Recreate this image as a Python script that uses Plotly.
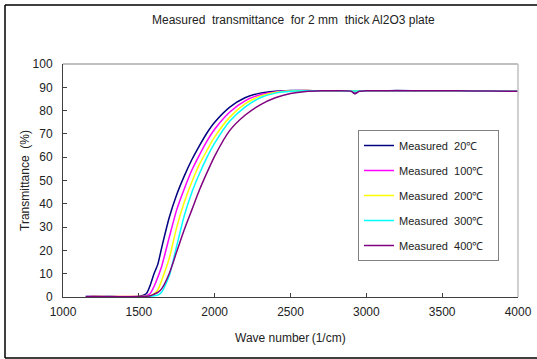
import plotly.graph_objects as go

# wave numbers (1/cm)
wave = [1150, 1200, 1300, 1400, 1500, 1550, 1575, 1600, 1625, 1650, 1700, 1750, 1800,
        1850, 1900, 1950, 2000, 2100, 2200, 2300, 2400, 2500, 2600, 2700, 2800,
        2900, 2925, 2950, 3000, 3100, 3200, 3400, 3600, 3800, 4000]

t20 = [0.2, 0.3, 0.2, 0.1, 0.3, 1.5, 5.0, 10.0, 14.0, 21.0, 34.0, 44.0, 52.0,
       59.0, 65.0, 70.5, 75.0, 81.5, 85.5, 87.5, 88.3, 88.6, 88.6, 88.5, 88.5,
       88.4, 87.3, 88.3, 88.5, 88.5, 88.6, 88.5, 88.5, 88.4, 88.3]
t100 = [0.2, 0.2, 0.3, 0.2, 0.2, 0.6, 1.5, 4.5, 8.5, 13.0, 25.5, 37.5, 46.5,
        54.5, 61.0, 67.0, 72.0, 79.4, 84.2, 86.8, 88.0, 88.5, 88.6, 88.5, 88.5,
        88.4, 88.3, 88.4, 88.5, 88.5, 88.5, 88.5, 88.5, 88.4, 88.3]
t200 = [0.1, 0.2, 0.2, 0.2, 0.2, 0.3, 0.6, 1.3, 3.0, 7.0, 16.5, 30.0, 40.8,
        49.5, 57.0, 63.0, 68.7, 77.2, 82.9, 86.2, 87.8, 88.4, 88.6, 88.5, 88.5,
        88.4, 88.4, 88.4, 88.5, 88.5, 88.5, 88.5, 88.5, 88.4, 88.3]
t300 = [0.2, 0.1, 0.2, 0.1, 0.1, 0.2, 0.3, 0.5, 0.8, 2.0, 9.0, 22.0, 35.0,
        45.0, 53.0, 60.0, 66.0, 75.5, 81.5, 85.5, 87.5, 88.3, 88.5, 88.5, 88.5,
        88.4, 88.4, 88.4, 88.5, 88.5, 88.5, 88.5, 88.5, 88.4, 88.3]
t400 = [0.1, 0.1, 0.1, 0.1, 0.1, 0.3, 0.5, 1.2, 2.0, 3.5, 10.0, 19.5, 29.0,
        37.5, 46.0, 53.5, 60.5, 71.5, 78.0, 82.5, 85.5, 87.3, 88.2, 88.5, 88.5,
        88.3, 87.2, 88.2, 88.5, 88.5, 88.5, 88.5, 88.5, 88.4, 88.3]

NB = "\u00a0" * 3
names = ["Measured  20\u2103", "Measured  100\u2103", "Measured  200\u2103",
         "Measured  300\u2103", "Measured  400\u2103"]
colors = ["#000080", "#FF00FF", "#FFFF00", "#00FFFF", "#800080"]
series = [t20, t100, t200, t300, t400]

xticks = [1000, 1500, 2000, 2500, 3000, 3500, 4000]
yticks = [0, 10, 20, 30, 40, 50, 60, 70, 80, 90, 100]

W, H = 537, 359
L, R, T, B = 63, 19, 64, 62
pw, ph = W - L - R, H - T - B

def px(x):
    return (x - L) / pw

def py(y):
    return (H - B - y) / ph

fig = go.Figure()
for i, (nm, c, s) in enumerate(zip(names, colors, series)):
    fig.add_trace(go.Scatter(x=wave, y=s, mode="lines", name=nm + NB,
                             legendgroup=f"g{i}",
                             line=dict(color=c, width=1.5, shape="spline", smoothing=0.6)))

font = "Liberation Sans, Arial, sans-serif"
fig.update_layout(
    width=W, height=H,
    margin=dict(l=L, r=R, t=T, b=B, autoexpand=False),
    paper_bgcolor="white", plot_bgcolor="white",
    font=dict(family=font, size=12, color="#222222"),
    showlegend=True,
    legend=dict(x=px(358), y=py(130), xanchor="left", yanchor="top",
                bgcolor="white", bordercolor="#808080", borderwidth=1,
                font=dict(family=font, size=11, color="#222222"),
                tracegroupgap=6, itemwidth=30),
    xaxis=dict(range=[1000, 4000], tickvals=xticks, ticks="inside", ticklen=4,
               tickcolor="#404040", showline=True, linecolor="#404040", linewidth=1,
               showgrid=False, zeroline=False, tickfont=dict(size=12),
               ticklabelstandoff=4, ticklabeloverflow="allow", automargin=False),
    yaxis=dict(range=[0, 100], tickvals=yticks, ticks="inside", ticklen=4,
               tickcolor="#404040", showline=True, linecolor="#404040", linewidth=1,
               showgrid=False, zeroline=False, tickfont=dict(size=12),
               ticklabelstandoff=7, automargin=False),
)

# plot-area border (top and right, gray)
fig.add_shape(type="line", xref="paper", yref="paper", x0=0, x1=1, y0=1, y1=1,
              line=dict(color="#C0C0C0", width=2))
fig.add_shape(type="line", xref="paper", yref="paper", x0=1, x1=1, y0=0, y1=1,
              line=dict(color="#C0C0C0", width=1.5))
# outer chart frame (top, left, bottom edges; right edge lies outside the picture)
for (xa, ya, xb, yb) in [(5, 5, 537, 5), (5, 5, 5, 358), (5, 358, 537, 358)]:
    fig.add_shape(type="line", xref="paper", yref="paper",
                  x0=px(xa), y0=py(ya), x1=px(xb), y1=py(yb),
                  line=dict(color="black", width=1.5))

ann = dict(xref="paper", yref="paper", showarrow=False,
           xanchor="center", yanchor="middle")
fig.add_annotation(text="Measured  transmittance  for 2 mm  thick Al2O3 plate",
                   x=px(293), y=py(20), font=dict(size=12, color="#222222"), **ann)
fig.add_annotation(text="Wave number\u2009(1/cm)",
                   x=px(290), y=py(338), font=dict(size=12, color="#222222"), **ann)
fig.add_annotation(text="Transmittance  (%)",
                   x=px(25), y=py(181), textangle=-90,
                   font=dict(size=12, color="#222222"), **ann)

fig.write_html("out.html", config={"displayModeBar": False},
               post_script="document.body.style.margin='0';document.body.style.overflow='hidden';")
